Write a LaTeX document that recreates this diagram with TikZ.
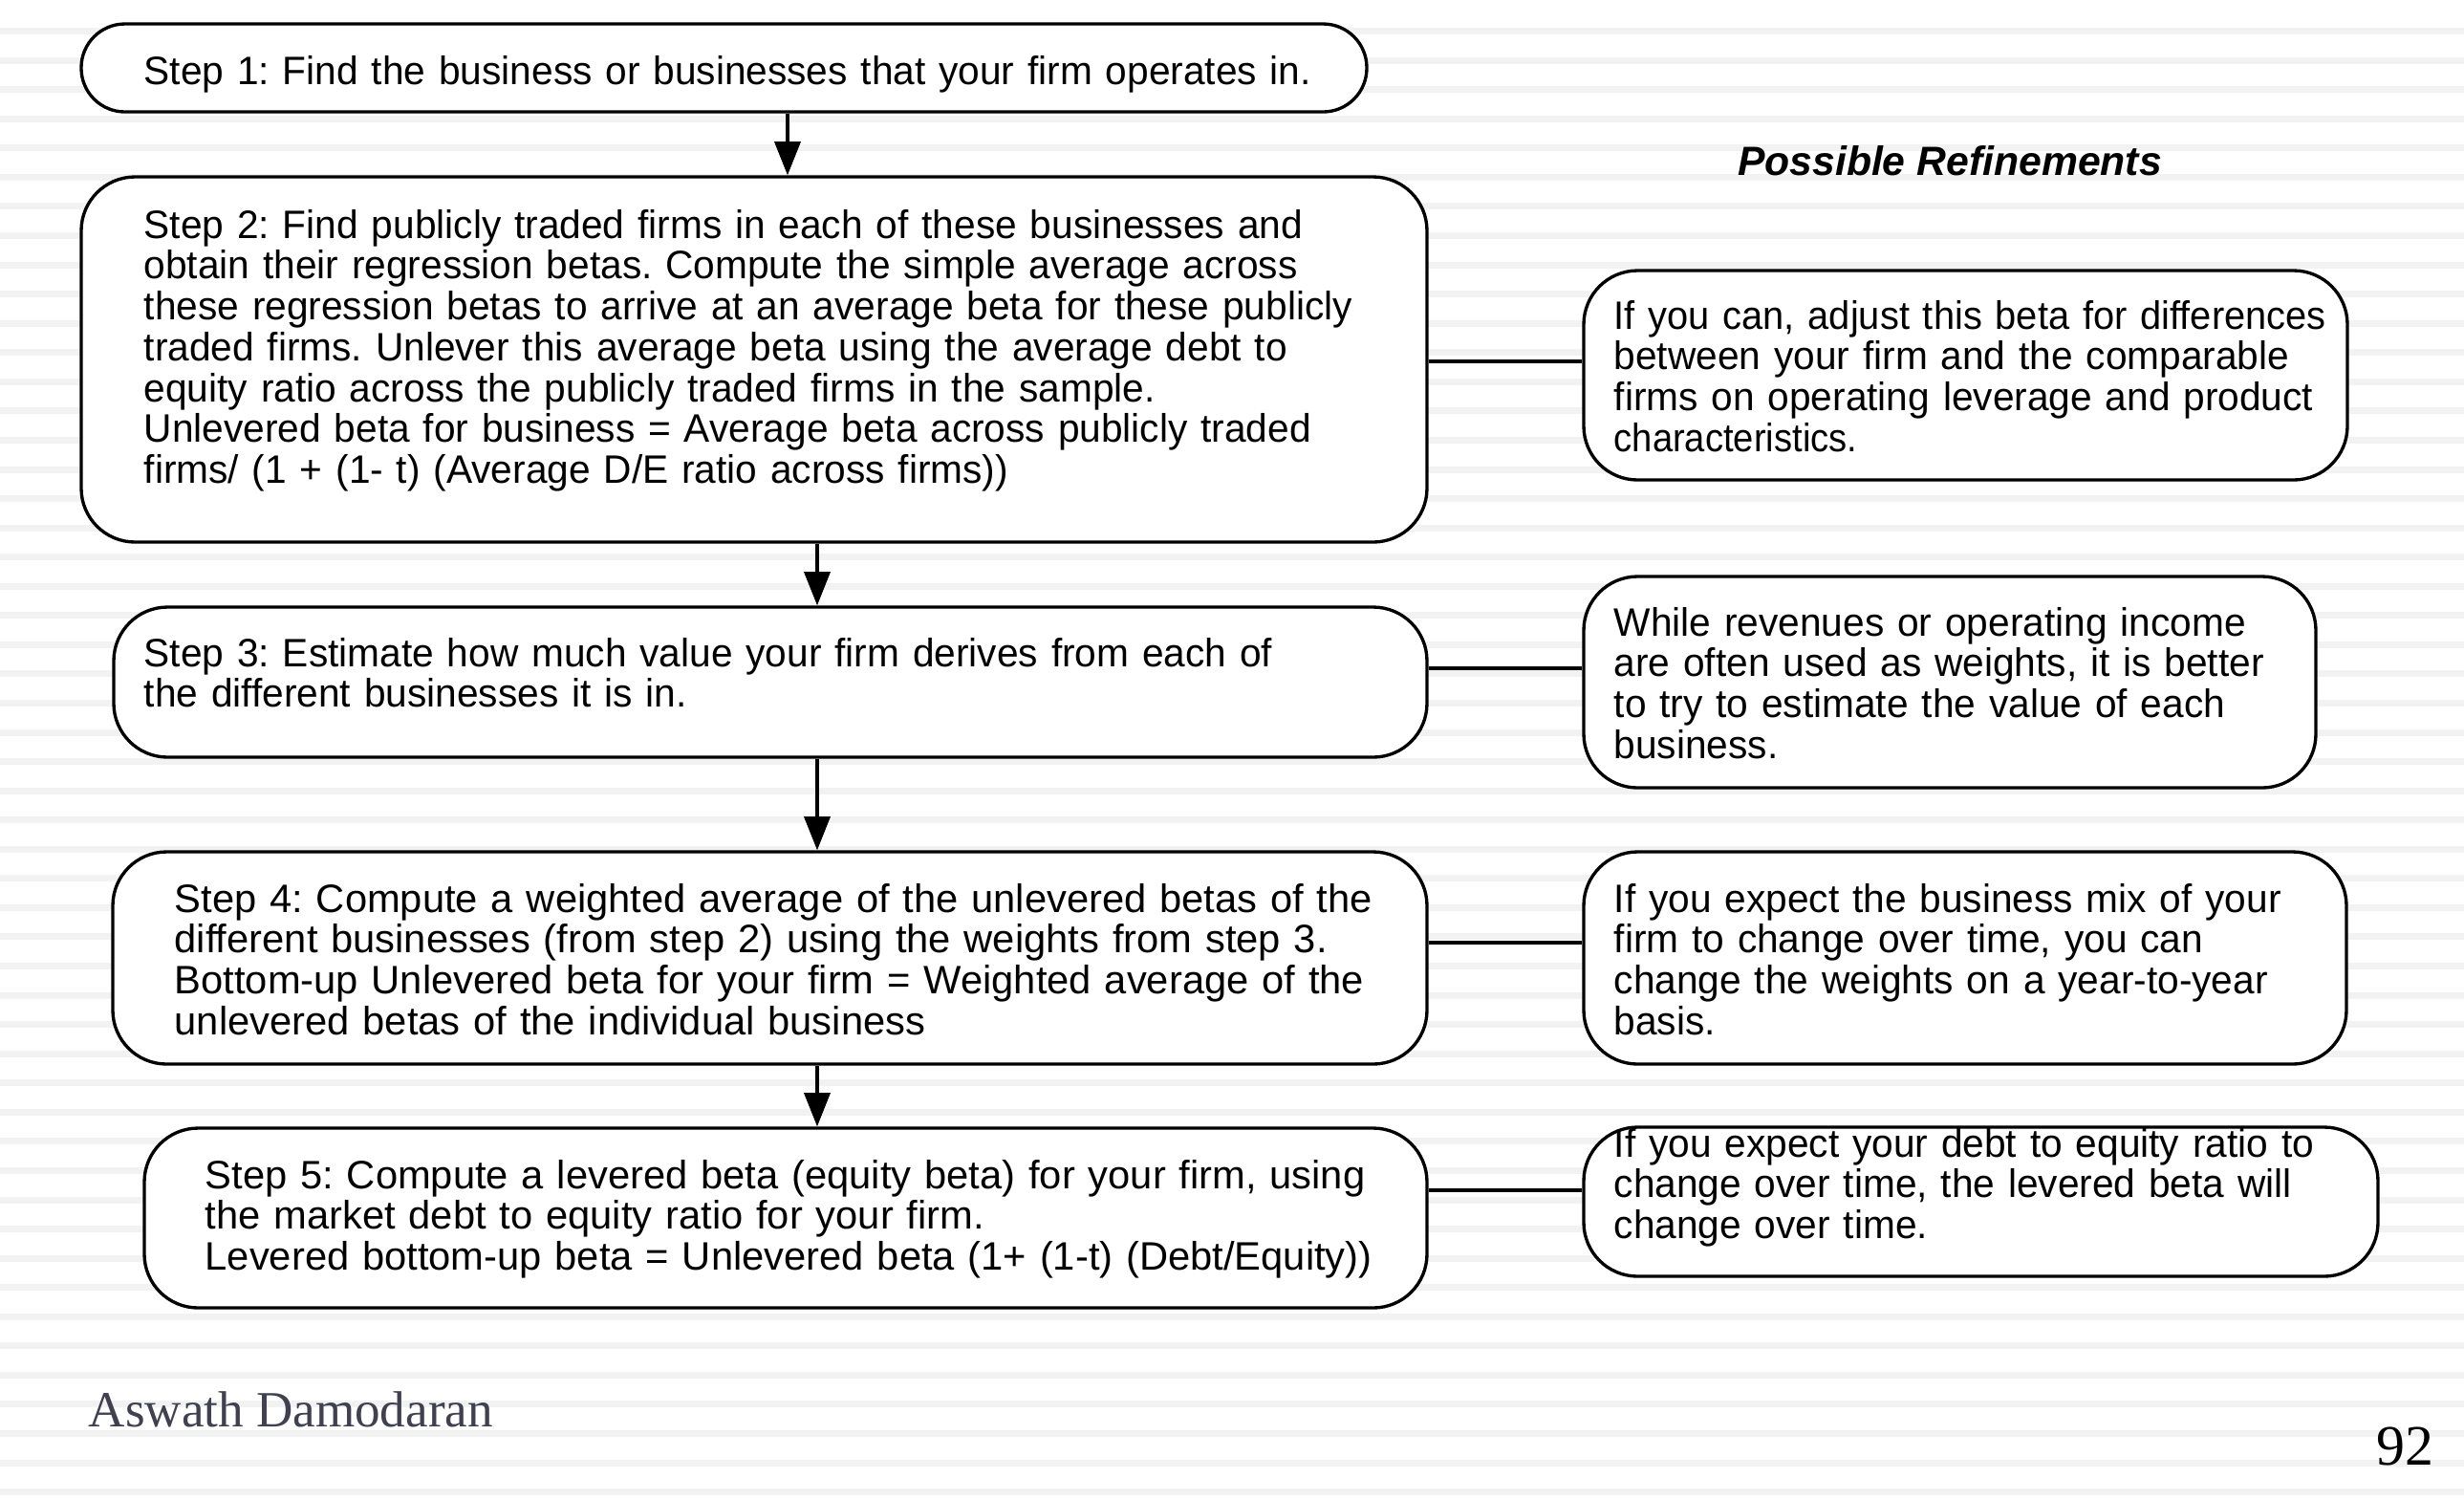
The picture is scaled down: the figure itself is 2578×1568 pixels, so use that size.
\documentclass[tikz,border=0pt]{standalone}
\usepackage{fontspec}
\setmainfont{Liberation Sans}[FakeStretch=0.98]
\newfontfamily\prfont{Liberation Sans}
\newfontfamily\serifface{Liberation Serif}
\usetikzlibrary{arrows.meta,fit}
\definecolor{stripecol}{HTML}{F2F2F2}
\definecolor{authorcol}{RGB}{64,64,80}
\begin{document}
\frenchspacing
\begin{tikzpicture}[x=0.01cm,y=-0.01cm,
  box/.style={draw, line width=0.95pt, fill=white, inner sep=0pt, rounded corners=16pt},
  txt/.style={anchor=base west, inner sep=0pt, align=left, text width=430pt,
    font=\fontsize{11.8pt}{12.16pt}\selectfont},
  widetxt/.style={txt, font=\fontsize{11.8pt}{12.16pt}\selectfont\addfontfeature{FakeStretch=1.005}},
  link/.style={line width=0.95pt},
  flow/.style={line width=0.95pt, -{Triangle[length=10pt,width=7.7pt]}}]
\useasboundingbox (0,0) rectangle (2578,1568);
\fill[white] (0,0) rectangle (2578,1568);
\foreach \k in {0,...,50} \fill[stripecol] (0,{29.1+30.56*\k}) rectangle (2578,{36.1+30.56*\k});

% left column boxes
\node[box, rounded corners=13pt, fit={(85,25) (1430,117)}] (s1) {};
\node[box, fit={(85,185) (1493,567)}] (s2) {};
\node[box, fit={(119,635) (1493,792)}] (s3) {};
\node[box, fit={(118,891) (1493,1113)}] (s4) {};
\node[box, fit={(151,1180) (1493,1368)}] (s5) {};
% right column boxes
\node[box, fit={(1657,283) (2456,502)}] (r1) {};
\node[box, fit={(1657,603) (2423,824)}] (r2) {};
\node[box, fit={(1657,891) (2455,1113)}] (r3) {};
\node[box, fit={(1657,1179) (2488,1335)}] (r4) {};

% texts
\node[txt] (t1) at (150,88) {Step 1: Find the business or businesses that your firm operates in.};
\node[txt] (t2) at (150,249) {Step 2: Find publicly traded firms in each of these businesses and\\
obtain their regression betas. Compute the simple average across\\
these regression betas to arrive at an average beta for these publicly\\
traded firms. Unlever this average beta using the average debt to\\
equity ratio across the publicly traded firms in the sample.\\
Unlevered beta for business = Average beta across publicly traded\\
firms/ (1 + (1- t) (Average D/E ratio across firms))};
\node[txt] (t3) at (150,697) {Step 3: Estimate how much value your firm derives from each of\\
the different businesses it is in.};
\node[widetxt] (t4) at (182,954) {Step 4: Compute a weighted average of the unlevered betas of the\\
different businesses (from step 2) using the weights from step 3.\\
Bottom-up Unlevered beta for your firm = Weighted average of the\\
unlevered betas of the individual business};
\node[widetxt] (t5) at (214,1243) {Step 5: Compute a levered beta (equity beta) for your firm, using\\
the market debt to equity ratio for your firm.\\
Levered bottom-up beta = Unlevered beta (1+ (1-t) (Debt/Equity))};

\node[anchor=base, inner sep=0pt, font=\prfont\fontsize{12.15pt}{12.5pt}\selectfont\bfseries\itshape] (pr) at (2040,183) {Possible Refinements};

\node[txt] (u1) at (1688,344) {{\addfontfeature{FakeStretch=0.96}If you can, adjust this beta for differences}\\
between your firm and the comparable\\
firms on operating leverage and product\\
{\addfontfeature{FakeStretch=0.92}characteristics.}};
\node[txt] (u2) at (1688,665) {While revenues or operating income\\
are often used as weights, it is better\\
to try to estimate the value of each\\
business.};
\node[txt] (u3) at (1688,954) {If you expect the business mix of your\\
firm to change over time, you can\\
change the weights on a year-to-year\\
basis.};
\node[txt] (u4) at (1688,1210) {If you expect your debt to equity ratio to\\
change over time, the levered beta will\\
change over time.};

% connectors
\draw[flow] (824,0 |- s1.south) -- (824,0 |- s2.north);
\draw[flow] (855,0 |- s2.south) -- (855,0 |- s3.north);
\draw[flow] (855,0 |- s3.south) -- (855,0 |- s4.north);
\draw[flow] (855,0 |- s4.south) -- (855,0 |- s5.north);
\draw[link] (s2.east |- 0,378) -- (r1.west |- 0,378);
\draw[link] (s3.east |- 0,699) -- (r2.west |- 0,699);
\draw[link] (s4.east |- 0,986) -- (r3.west |- 0,986);
\draw[link] (s5.east |- 0,1245) -- (r4.west |- 0,1245);

% footer
\node[anchor=base west, inner sep=0pt, text=authorcol, font=\serifface\fontsize{15.1pt}{16pt}\selectfont] (au) at (92,1492) {Aswath Damodaran};
\node[anchor=base east, inner sep=0pt, font=\serifface\fontsize{17pt}{18pt}\selectfont] (pg) at (2547,1532) {92};
\end{tikzpicture}
\end{document}
